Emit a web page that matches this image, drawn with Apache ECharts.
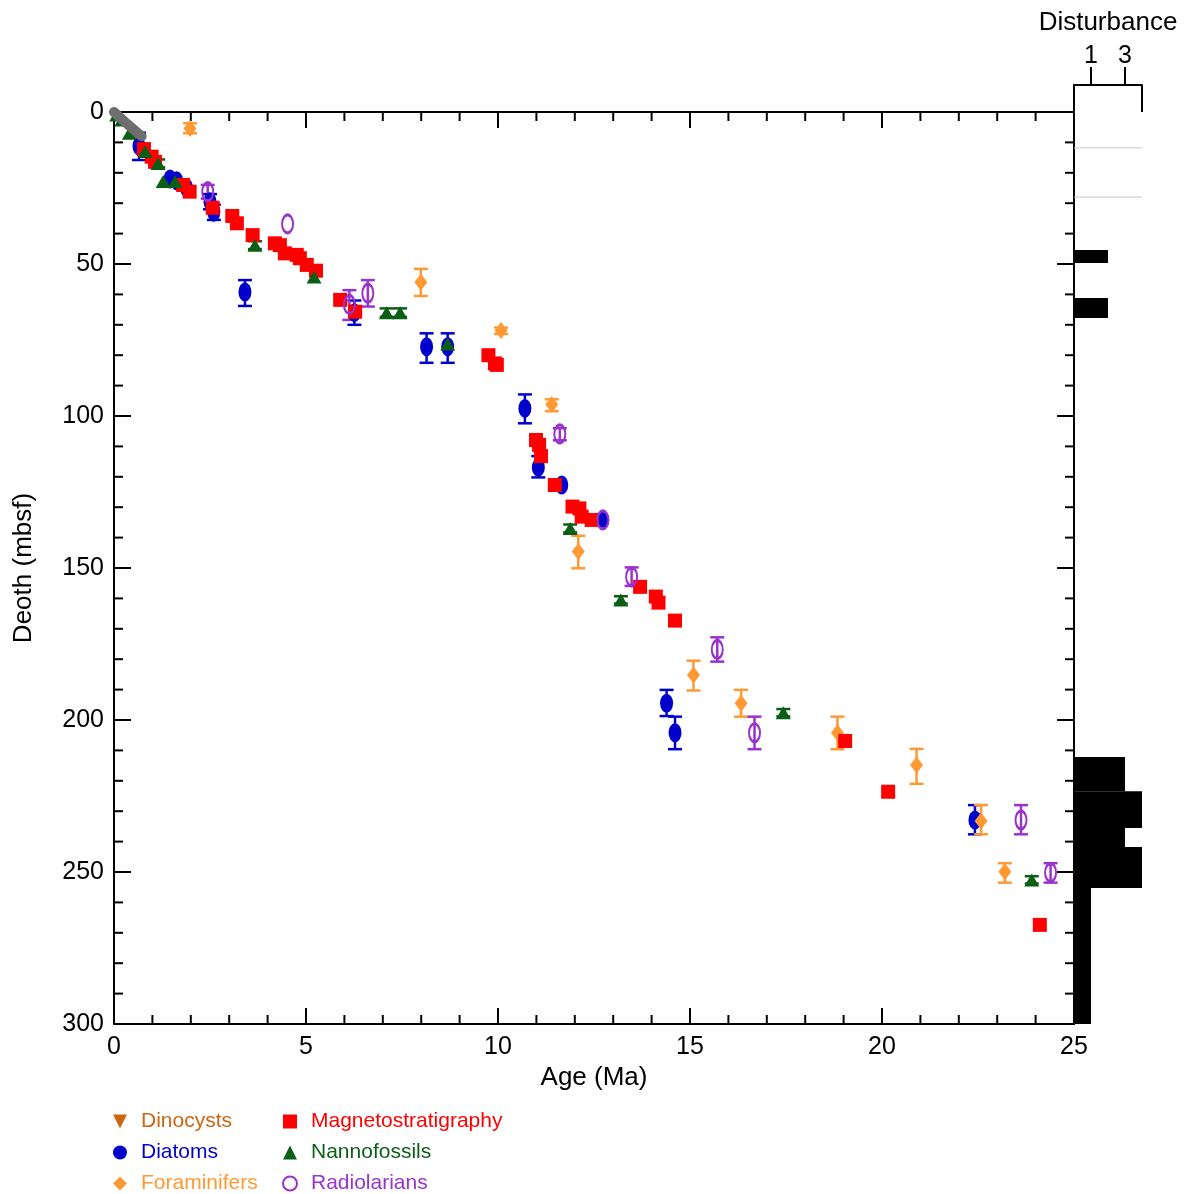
<!DOCTYPE html>
<html>
<head>
<meta charset="utf-8">
<script src="https://cdn.jsdelivr.net/npm/echarts@6/dist/echarts.min.js"></script>
<style>html,body{margin:0;padding:0;background:#fff}#c{width:1185px;height:1194px}</style>
</head>
<body>
<div id="c"></div>
<script>
// [age (Ma), depth (mbsf), error low, error high]
const dinocysts = [];
const diatoms = [
  [0.65, 11.2, 6.8, 15.8], [1.46, 22.0, null, null], [1.63, 22.6, null, null], [1.89, 25.0, null, null],
  [2.50, 29.5, 27.0, 32.0], [2.60, 33.0, 30.5, 35.5], [3.41, 59.2, 55.3, 63.8], [6.26, 66.0, 62.0, 70.0],
  [8.14, 77.2, 72.8, 82.5], [8.69, 77.2, 72.8, 82.5], [10.70, 97.5, 92.9, 102.4], [11.05, 116.9, 113.2, 120.2],
  [11.66, 122.7, null, null], [12.73, 134.2, null, null], [14.39, 194.5, 190.1, 198.7], [14.61, 204.2, 198.9, 209.6],
  [22.42, 232.9, 228.0, 237.6]
];
const foraminifers = [
  [1.98, 5.4, 3.7, 7.0], [7.99, 56.0, 51.6, 60.5], [10.08, 71.9, 70.9, 73.0], [11.40, 96.2, 94.5, 98.4],
  [12.09, 144.6, 139.4, 150.1], [15.09, 185.2, 180.5, 190.3], [16.33, 194.5, 190.1, 198.9], [18.84, 204.2, 198.9, 209.6],
  [20.90, 214.8, 209.5, 221.0], [22.58, 233.2, 228.0, 237.6], [23.20, 249.9, 247.1, 253.5]
];
const magnetostratigraphy = [
  [0.78, 12.2], [0.98, 14.7], [1.07, 16.4], [1.80, 24.0], [1.97, 26.2], [2.57, 31.5], [3.08, 34.2], [3.20, 36.6],
  [3.61, 40.5], [4.19, 43.2], [4.32, 43.8], [4.45, 46.5], [4.76, 47.0], [4.84, 48.1], [5.02, 50.3], [5.26, 52.2],
  [5.89, 61.8], [6.28, 65.7], [9.75, 80.0], [9.92, 82.7], [9.97, 83.2], [10.99, 107.9], [11.07, 109.5], [11.12, 113.2],
  [11.48, 122.7], [11.94, 129.8], [12.12, 130.4], [12.18, 133.1], [12.44, 134.2], [13.70, 156.2], [14.11, 159.4],
  [14.18, 161.4], [14.61, 167.3], [19.04, 206.9], [20.16, 223.6], [24.11, 267.4]
];
const nannofossils = [
  [0.07, 1.0, null, null], [0.20, 2.6, null, null], [0.40, 7.0, null, null], [0.81, 13.0, null, null],
  [1.15, 16.9, 15.6, 18.2], [1.28, 22.9, null, null], [1.59, 22.9, null, null], [3.67, 43.8, 42.5, 45.1],
  [5.21, 54.3, null, null], [7.10, 66.0, 64.6, 67.4], [7.45, 66.0, 64.6, 67.4], [8.69, 76.3, null, null],
  [11.88, 137.0, 135.7, 138.3], [13.20, 160.5, 159.3, 161.7], [17.43, 197.6, 196.4, 198.8], [23.90, 252.6, 251.4, 253.8]
];
const radiolarians = [
  [2.44, 26.2, 24.0, 28.5], [4.52, 36.8, null, null], [6.13, 63.3, 58.6, 68.4], [6.61, 59.6, 55.3, 64.0],
  [11.61, 105.9, 104.0, 108.0], [12.73, 134.2, null, null], [13.48, 152.9, 149.8, 155.9], [15.71, 176.8, 172.8, 180.8],
  [16.68, 204.2, 198.9, 209.6], [23.62, 232.9, 228.0, 237.6], [24.39, 250.2, 247.1, 253.5]
];
const greyTrail = [[0, 0], [0.35, 4], [0.72, 8]];
// disturbance: [top depth, bottom depth, value]
const disturbanceBars = [
  [45.4, 49.7, 2], [61.2, 67.8, 2], [212.2, 223.4, 3], [223.4, 235.5, 4],
  [235.5, 241.8, 3], [241.8, 255.3, 4], [255.3, 300, 1]
];
const disturbanceLines = [[11.8, 4], [28.0, 4]];
// tick positions
const ageTicks = [0, 1, 2, 3, 4, 5, 6, 7, 8, 9, 10, 11, 12, 13, 14, 15, 16, 17, 18, 19, 20, 21, 22, 23, 24, 25];
const depthTicks = [0, 10, 20, 30, 40, 50, 60, 70, 80, 90, 100, 110, 120, 130, 140, 150, 160, 170, 180, 190, 200,
  210, 220, 230, 240, 250, 260, 270, 280, 290, 300];
const disturbanceTicks = [1, 3];
const disturbanceFrameTicks = [0, 4];

const C = {
  dino: '#cc6611', diatom: '#0000cc', fora: '#ff9933', mag: '#ff0000', nanno: '#0b5e16', radio: '#9933cc'
};
const FONT = 'Liberation Sans, Arial, Helvetica, sans-serif';
const LINE = { color: '#000', width: 2 };
const TOPPAD = 27 / 3.04; // disturbance frame above depth 0

function errSeries(data, color) {
  return {
    type: 'custom', xAxisIndex: 0, yAxisIndex: 0, silent: true,
    data: data.filter(d => d[2] != null).map(d => [d[0], d[2], d[3]]),
    encode: { x: 0, y: [1, 2] },
    renderItem: function (params, api) {
      const x = api.value(0), lo = api.value(1), hi = api.value(2);
      const p1 = api.coord([x, lo]), p2 = api.coord([x, hi]);
      const w = 7;
      const st = { stroke: color, lineWidth: 2.5 };
      return {
        type: 'group', children: [
          { type: 'line', shape: { x1: p1[0], y1: p1[1], x2: p2[0], y2: p2[1] }, style: st },
          { type: 'line', shape: { x1: p1[0] - w, y1: p1[1], x2: p1[0] + w, y2: p1[1] }, style: st },
          { type: 'line', shape: { x1: p2[0] - w, y1: p2[1], x2: p2[0] + w, y2: p2[1] }, style: st }
        ]
      };
    }
  };
}
function pts(data) { return data.map(d => [d[0], d[1]]); }
const tickStyle = { stroke: '#000', lineWidth: 2 };
function ln(x1, y1, x2, y2) { return { type: 'line', shape: { x1: x1, y1: y1, x2: x2, y2: y2 }, style: tickStyle }; }

const chart = echarts.init(document.getElementById('c'));
chart.setOption({
  animation: false,
  backgroundColor: '#fff',
  textStyle: { fontFamily: FONT },
  grid: [
    { left: 114, top: 112, right: 111, bottom: 170 },
    { left: 1074, top: 85, width: 68, bottom: 170 }
  ],
  xAxis: [
    {
      gridIndex: 0, type: 'value', position: 'bottom', min: 0, max: 25, interval: 5,
      axisLine: { onZero: false, lineStyle: LINE }, axisTick: { show: false }, splitLine: { show: false },
      axisLabel: { fontSize: 25, color: '#000', margin: 11, fontFamily: FONT },
      name: 'Age (Ma)', nameLocation: 'middle', nameGap: 41,
      nameTextStyle: { fontSize: 26, color: '#000', fontFamily: FONT }
    },
    {
      gridIndex: 0, type: 'value', position: 'top', min: 0, max: 25, interval: 5,
      axisLine: { onZero: false, lineStyle: LINE }, axisTick: { show: false }, splitLine: { show: false }, axisLabel: { show: false }
    },
    {
      gridIndex: 1, type: 'value', position: 'top', min: 0, max: 4,
      axisLine: { onZero: false, lineStyle: LINE }, axisTick: { show: false }, splitLine: { show: false },
      axisLabel: { fontSize: 25, color: '#000', margin: 16, customValues: disturbanceTicks, fontFamily: FONT },
      name: 'Disturbance', nameLocation: 'middle', nameGap: 49,
      nameTextStyle: { fontSize: 26, color: '#000', fontFamily: FONT }
    }
  ],
  yAxis: [
    {
      gridIndex: 0, type: 'value', position: 'left', inverse: true, min: 0, max: 300, interval: 50,
      axisLine: { onZero: false, lineStyle: LINE }, axisTick: { show: false }, splitLine: { show: false },
      axisLabel: { fontSize: 25, color: '#000', margin: 10, fontFamily: FONT },
      name: 'Deoth (mbsf)', nameLocation: 'middle', nameGap: 77, nameRotate: 90,
      nameTextStyle: { fontSize: 26, color: '#000', fontFamily: FONT }
    },
    {
      gridIndex: 0, type: 'value', position: 'right', inverse: true, min: 0, max: 300, interval: 50,
      axisLine: { onZero: false, lineStyle: LINE }, axisTick: { show: false }, splitLine: { show: false }, axisLabel: { show: false }
    },
    {
      gridIndex: 1, type: 'value', position: 'left', inverse: true, min: -TOPPAD, max: 300,
      axisLine: { onZero: false, lineStyle: LINE }, axisTick: { show: false }, splitLine: { show: false }, axisLabel: { show: false }
    }
  ],
  legend: [
    {
      left: 113, top: 1111, padding: 0, orient: 'vertical', itemWidth: 14, itemHeight: 14, itemGap: 10,
      textStyle: { fontSize: 21, lineHeight: 20, padding: [0, 0, 0, 9], fontFamily: FONT },
      data: [
        { name: 'Dinocysts', textStyle: { color: C.dino } },
        { name: 'Diatoms', textStyle: { color: C.diatom } },
        { name: 'Foraminifers', textStyle: { color: C.fora } }
      ]
    },
    {
      left: 282, top: 1111, padding: 0, orient: 'vertical', itemWidth: 14, itemHeight: 14, itemGap: 10,
      textStyle: { fontSize: 21, lineHeight: 20, padding: [0, 0, 0, 9], fontFamily: FONT },
      data: [
        { name: 'Magnetostratigraphy', textStyle: { color: C.mag } },
        { name: 'Nannofossils', textStyle: { color: C.nanno } },
        { name: 'Radiolarians', textStyle: { color: C.radio } }
      ]
    }
  ],
  series: [
    // axis ticks (inward) for the main frame
    {
      type: 'custom', xAxisIndex: 0, yAxisIndex: 0, silent: true, clip: false,
      data: ageTicks.map(v => [v, 0]), encode: { x: 0, y: 1 },
      renderItem: function (params, api) {
        const v = api.value(0), len = v % 5 === 0 ? 16 : 9;
        const b = api.coord([v, 300]), t = api.coord([v, 0]);
        return { type: 'group', children: [ln(b[0], b[1], b[0], b[1] - len), ln(t[0], t[1], t[0], t[1] + len)] };
      }
    },
    {
      type: 'custom', xAxisIndex: 0, yAxisIndex: 0, silent: true, clip: false,
      data: depthTicks.map(v => [0, v]), encode: { x: 0, y: 1 },
      renderItem: function (params, api) {
        const d = api.value(1), len = d % 50 === 0 ? 17 : 9;
        const l = api.coord([0, d]), r = api.coord([25, d]);
        return { type: 'group', children: [ln(l[0], l[1], l[0] + len, l[1]), ln(r[0], r[1], r[0] - len, r[1])] };
      }
    },
    {
      type: 'line', xAxisIndex: 0, yAxisIndex: 0, data: greyTrail, symbol: 'none', silent: true,
      lineStyle: { color: '#6e6e6e', width: 10, cap: 'round' }
    },
    errSeries(diatoms, C.diatom),
    {
      name: 'Diatoms', type: 'scatter', xAxisIndex: 0, yAxisIndex: 0, data: pts(diatoms),
      symbol: 'circle', symbolSize: [13, 19], itemStyle: { color: C.diatom, opacity: 1 }
    },
    errSeries(foraminifers, C.fora),
    {
      name: 'Foraminifers', type: 'scatter', xAxisIndex: 0, yAxisIndex: 0, data: pts(foraminifers),
      symbol: 'diamond', symbolSize: [13, 17], itemStyle: { color: C.fora, opacity: 1 }
    },
    {
      name: 'Magnetostratigraphy', type: 'scatter', xAxisIndex: 0, yAxisIndex: 0, data: magnetostratigraphy,
      symbol: 'rect', symbolSize: 14, itemStyle: { color: C.mag, opacity: 1 }
    },
    errSeries(nannofossils, C.nanno),
    {
      name: 'Nannofossils', type: 'scatter', xAxisIndex: 0, yAxisIndex: 0, data: pts(nannofossils),
      symbol: 'triangle', symbolSize: [15, 13], itemStyle: { color: C.nanno, opacity: 1 }
    },
    errSeries(radiolarians, C.radio),
    {
      name: 'Radiolarians', type: 'scatter', xAxisIndex: 0, yAxisIndex: 0, data: pts(radiolarians),
      symbol: 'circle', symbolSize: [11, 18],
      itemStyle: { color: 'rgba(255,255,255,0)', borderColor: C.radio, borderWidth: 2.5, opacity: 1 }
    },
    {
      name: 'Dinocysts', type: 'scatter', xAxisIndex: 0, yAxisIndex: 0, data: pts(dinocysts),
      symbol: 'path://M0,0 L10,0 L5,10 Z', symbolSize: 13, itemStyle: { color: C.dino, opacity: 1 }
    },
    // disturbance panel
    {
      type: 'custom', xAxisIndex: 2, yAxisIndex: 2, silent: true, data: disturbanceLines,
      encode: { x: 1, y: 0 },
      renderItem: function (params, api) {
        const p0 = api.coord([0, api.value(0)]), p1 = api.coord([api.value(1), api.value(0)]);
        return { type: 'line', shape: { x1: p0[0], y1: p0[1], x2: p1[0], y2: p1[1] }, style: { stroke: '#c8c8c8', lineWidth: 1 } };
      }
    },
    {
      type: 'custom', xAxisIndex: 2, yAxisIndex: 2, silent: true, data: disturbanceBars,
      encode: { x: 2, y: [0, 1] },
      renderItem: function (params, api) {
        const p0 = api.coord([0, api.value(0)]), p1 = api.coord([api.value(2), api.value(1)]);
        return { type: 'rect', shape: { x: p0[0], y: p0[1], width: p1[0] - p0[0], height: p1[1] - p0[1] }, style: { fill: '#000' } };
      }
    },
    {
      type: 'custom', xAxisIndex: 2, yAxisIndex: 2, silent: true, clip: false,
      data: disturbanceTicks.map(v => [v, -TOPPAD]), encode: { x: 0, y: 1 },
      renderItem: function (params, api) {
        const p = api.coord([api.value(0), api.value(1)]);
        return ln(p[0], p[1], p[0], p[1] - 18);
      }
    },
    {
      type: 'custom', xAxisIndex: 2, yAxisIndex: 2, silent: true, clip: false,
      data: disturbanceFrameTicks.slice(1).map(v => [v, -TOPPAD]), encode: { x: 0, y: 1 },
      renderItem: function (params, api) {
        const p = api.coord([api.value(0), api.value(1)]), q = api.coord([api.value(0), 0]);
        return ln(p[0], p[1], q[0], q[1]);
      }
    }
  ]
});
</script>
</body>
</html>
